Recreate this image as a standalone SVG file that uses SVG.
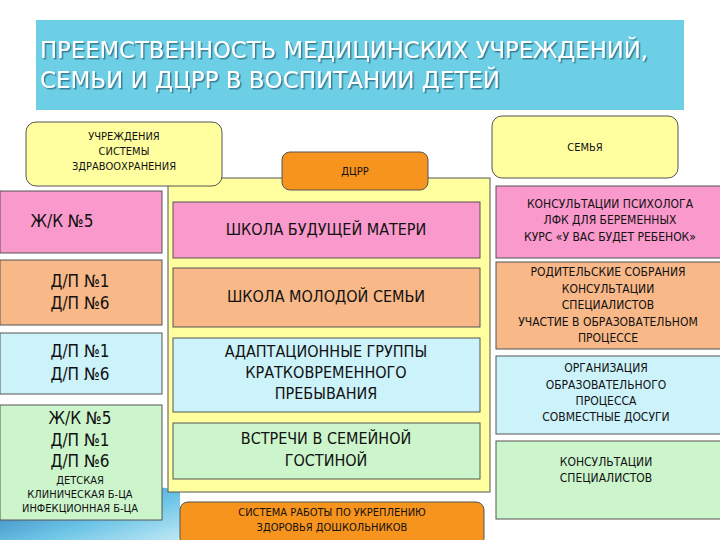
<svg xmlns="http://www.w3.org/2000/svg" width="720" height="540" viewBox="0 0 720 540">
<defs>
<linearGradient id="sw" x1="0" y1="0" x2="1" y2="1"><stop offset="0" stop-color="#2a6fb0"/><stop offset="0.6" stop-color="#6cc4e6"/><stop offset="1" stop-color="#bfe8f5"/></linearGradient>
<filter id="sh" x="-5%" y="-20%" width="110%" height="140%"><feDropShadow dx="1.5" dy="1.5" stdDeviation="0.5" flood-color="#2c6a80" flood-opacity="0.8"/></filter>
</defs>
<style>
text{font-family:"DejaVu Sans Condensed","Liberation Sans",Arial,sans-serif;fill:#111;text-anchor:middle}
.b{stroke:#555;stroke-width:1}
.pk{fill:#f999cc}.or{fill:#f8b888}.bl{fill:#ccf2fa}.gr{fill:#ccf5cc}.ye{fill:#ffffa0}.og{fill:#f7941d}
.s11{font-size:11px}.s12{font-size:12px}.s15{font-size:16px}.s16{font-size:17px}
.t{font-size:23px;fill:#fff;text-anchor:start;filter:url(#sh)}
</style>
<rect width="720" height="540" fill="#fff"/>
<path d="M0,495 Q100,478 180,490 L180,540 L0,540 Z" fill="url(#sw)"/>
<g id="title"><rect x="36" y="20" width="648" height="90" fill="#6dcfe6"/>
<text class="t" x="40" y="58" textLength="608" lengthAdjust="spacingAndGlyphs">ПРЕЕМСТВЕННОСТЬ МЕДИЦИНСКИХ УЧРЕЖДЕНИЙ,</text>
<text class="t" x="40" y="88" textLength="460" lengthAdjust="spacingAndGlyphs">СЕМЬИ И ДЦРР В ВОСПИТАНИИ ДЕТЕЙ</text></g>
<g id="panel"><rect x="168" y="178" width="322" height="314" class="ye b"/></g>
<g id="hdr-health"><rect x="26" y="122" width="196" height="64" rx="10" class="ye b"/>
<text class="s11" x="124" y="140">УЧРЕЖДЕНИЯ</text><text class="s11" x="124" y="155">СИСТЕМЫ</text><text class="s11" x="124" y="170">ЗДРАВООХРАНЕНИЯ</text></g>
<g id="hdr-dcrr"><rect x="282" y="152" width="146" height="38" rx="8" class="og b"/><text class="s11" x="355" y="175">ДЦРР</text></g>
<g id="hdr-family"><rect x="492" y="116" width="186" height="62" rx="10" class="ye b"/><text class="s11" x="585" y="151">СЕМЬЯ</text></g>
<g id="l1"><rect x="0" y="191" width="162" height="62" class="pk b"/><text class="s16" x="62" y="227">Ж/К №5</text></g>
<g id="l2"><rect x="0" y="260" width="162" height="65" class="or b"/><text class="s16" x="80" y="287">Д/П №1</text><text class="s16" x="80" y="309">Д/П №6</text></g>
<g id="l3"><rect x="0" y="333" width="162" height="61" class="bl b"/><text class="s16" x="80" y="357">Д/П №1</text><text class="s16" x="80" y="380">Д/П №6</text></g>
<g id="l4"><rect x="0" y="405" width="162" height="115" class="gr b"/><text class="s16" x="80" y="424">Ж/К №5</text><text class="s16" x="80" y="446">Д/П №1</text><text class="s16" x="80" y="467">Д/П №6</text>
<text class="s11" x="80" y="484">ДЕТСКАЯ</text><text class="s11" x="80" y="498">КЛИНИЧЕСКАЯ Б-ЦА</text><text class="s11" x="80" y="512">ИНФЕКЦИОННАЯ Б-ЦА</text></g>
<g id="c1"><rect x="173" y="202" width="307" height="56" class="pk b"/><text class="s15" x="326" y="235">ШКОЛА БУДУЩЕЙ МАТЕРИ</text></g>
<g id="c2"><rect x="173" y="268" width="307" height="59" class="or b"/><text class="s15" x="326" y="302">ШКОЛА МОЛОДОЙ СЕМЬИ</text></g>
<g id="c3"><rect x="173" y="338" width="307" height="74" class="bl b"/><text class="s15" x="326" y="357">АДАПТАЦИОННЫЕ ГРУППЫ</text><text class="s15" x="326" y="378">КРАТКОВРЕМЕННОГО</text><text class="s15" x="326" y="399">ПРЕБЫВАНИЯ</text></g>
<g id="c4"><rect x="173" y="423" width="307" height="56" class="gr b"/><text class="s15" x="326" y="444">ВСТРЕЧИ В СЕМЕЙНОЙ</text><text class="s15" x="326" y="466">ГОСТИНОЙ</text></g>
<g id="c5"><rect x="180" y="502" width="304" height="44" rx="8" class="og b"/><text class="s11" x="332" y="516">СИСТЕМА РАБОТЫ ПО УКРЕПЛЕНИЮ</text><text class="s11" x="332" y="531">ЗДОРОВЬЯ ДОШКОЛЬНИКОВ</text></g>
<g id="r1"><rect x="496" y="186" width="230" height="72" class="pk b"/><text class="s12" x="610" y="208">КОНСУЛЬТАЦИИ ПСИХОЛОГА</text><text class="s12" x="610" y="224">ЛФК ДЛЯ БЕРЕМЕННЫХ</text><text class="s12" x="610" y="241">КУРС «У ВАС БУДЕТ РЕБЕНОК»</text></g>
<g id="r2"><rect x="496" y="262" width="230" height="87" class="or b"/><text class="s12" x="608" y="276">РОДИТЕЛЬСКИЕ СОБРАНИЯ</text><text class="s12" x="608" y="293">КОНСУЛЬТАЦИИ</text><text class="s12" x="608" y="309">СПЕЦИАЛИСТОВ</text><text class="s12" x="608" y="326">УЧАСТИЕ В ОБРАЗОВАТЕЛЬНОМ</text><text class="s12" x="608" y="342">ПРОЦЕССЕ</text></g>
<g id="r3"><rect x="496" y="356" width="230" height="78" class="bl b"/><text class="s12" x="606" y="372">ОРГАНИЗАЦИЯ</text><text class="s12" x="606" y="389">ОБРАЗОВАТЕЛЬНОГО</text><text class="s12" x="606" y="405">ПРОЦЕССА</text><text class="s12" x="606" y="421">СОВМЕСТНЫЕ ДОСУГИ</text></g>
<g id="r4"><rect x="496" y="441" width="230" height="78" class="gr b"/><text class="s12" x="606" y="466">КОНСУЛЬТАЦИИ</text><text class="s12" x="606" y="482">СПЕЦИАЛИСТОВ</text></g>
<g id="connectors"/>
</svg>
